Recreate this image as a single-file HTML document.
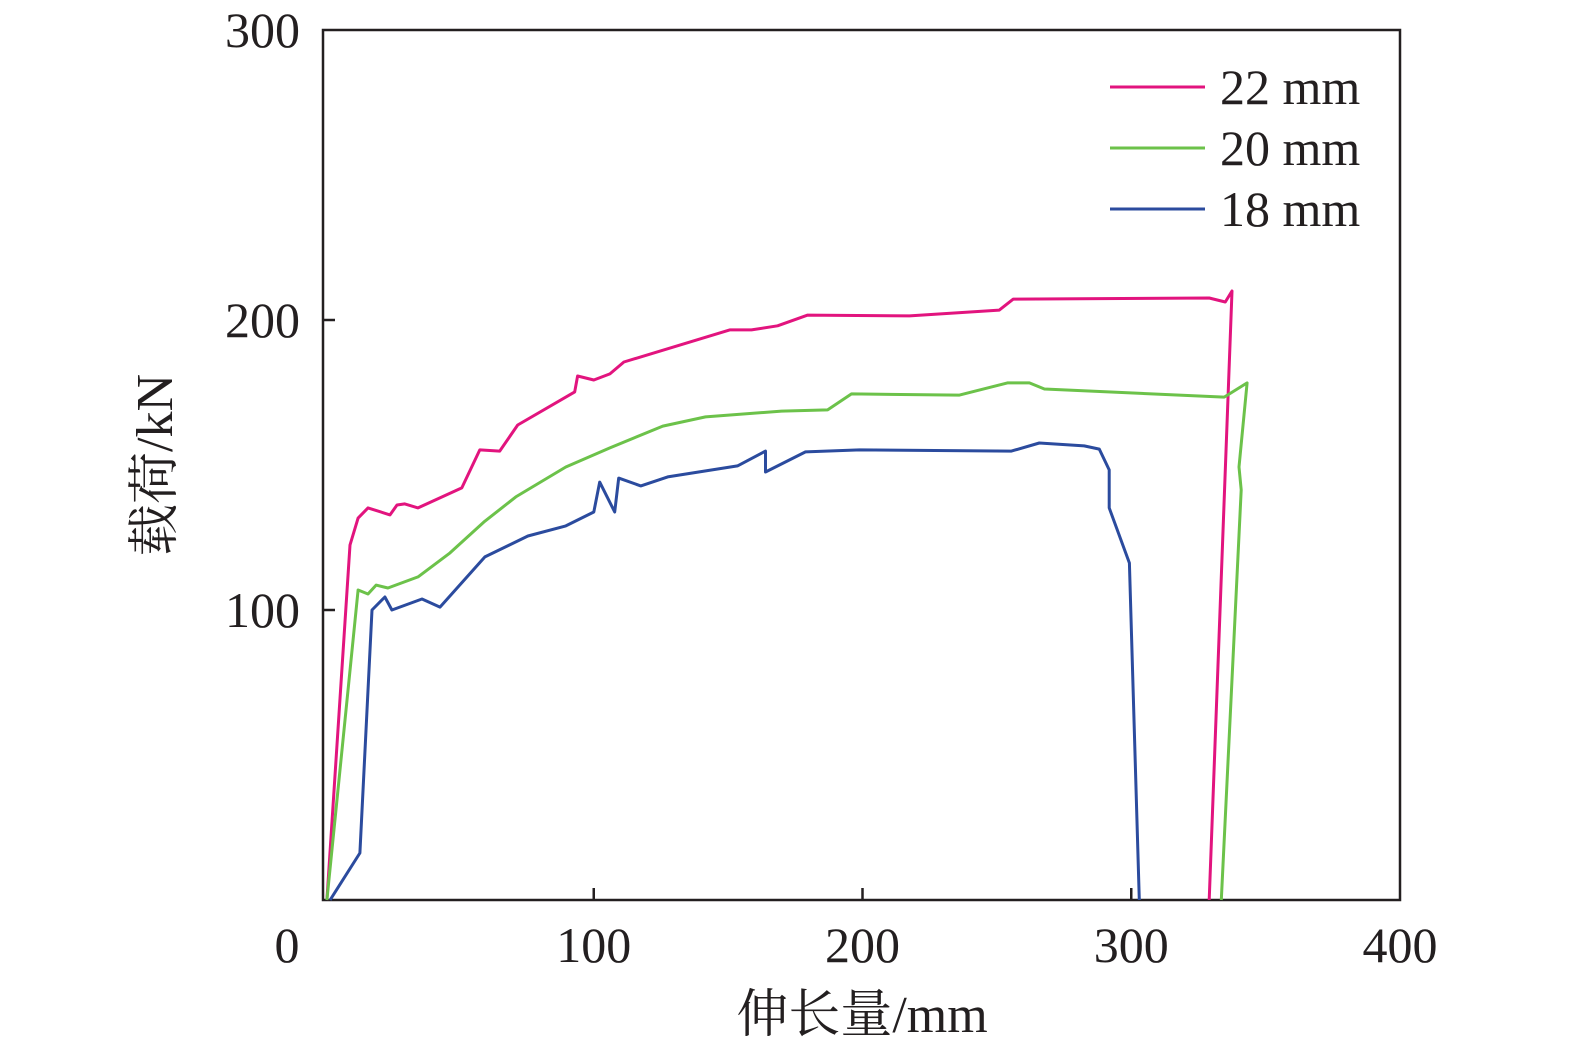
<!DOCTYPE html>
<html><head><meta charset="utf-8"><style>
html,body{margin:0;padding:0;background:#fff;}
svg text{font-family:"Liberation Serif","Noto Serif CJK SC",serif;fill:#231f20;}
</style></head><body>
<svg id="chart" width="1575" height="1054" xmlns="http://www.w3.org/2000/svg">
<g id="plot"></g>
</svg>
<script>
const xTicks=[0,100,200,300,400];
const yTicks=[100,200,300];
const seriesNames=["22 mm","20 mm","18 mm"];
const seriesColors=["#e2147e","#6cc24a","#2b4b9e"];
const x22=[0.7,9.3,12.3,16,24.2,26.8,29.7,34.6,50.9,57.6,65,71.7,92.9,94,100,106,111.2,150.6,158.7,168.4,179.6,217.5,250.9,256.1,329,335,337.5,329];
const y22=[0,122.4,131.7,135.2,132.8,136.2,136.6,135.2,142.1,155.2,154.8,163.8,175.2,180.7,179.3,181.4,185.5,196.6,196.6,198,201.7,201.4,203.4,207.2,207.6,206.2,210,0];
const x20=[0.7,12.3,16,19,23.4,34.6,46.5,59.1,71,89.6,106,125.7,141.6,169.9,187,195.9,236.1,253.9,262.1,267.7,334.6,343.1,340.1,340.9,333.5];
const y20=[0,106.9,105.5,108.6,107.6,111.4,119.7,130.3,139,149.3,155.9,163.4,166.6,168.6,169,174.5,174.1,178.3,178.3,176.2,173.4,178.3,149.3,141.4,0];
const x18=[1.9,13,17.5,22.3,24.9,36.1,42.8,59.5,75.5,89.6,100,102.2,107.8,109.3,117.5,127.5,153.5,163.9,163.9,178.8,198.9,255.4,265.8,282.5,288.1,291.8,291.8,299.3,303];
const y18=[0,16.2,100,104.5,100,103.8,101,118.3,125.5,129,133.8,144.1,133.8,145.5,142.8,145.9,149.7,154.8,147.6,154.5,155.2,154.8,157.6,156.6,155.5,148.3,135.2,116.2,0];
const XS=[x22,x20,x18], YS=[y22,y20,y18];
const L=325,R=1400,T=30,B=900;
const sx=v=>L+(v-0)*(R-L)/400;
const sy=v=>B-v*(B-T)/300;
const NS="http://www.w3.org/2000/svg";
const g=document.getElementById('plot');
function mk(t,a){const e=document.createElementNS(NS,t);for(const k in a)e.setAttribute(k,a[k]);g.appendChild(e);return e;}
const frame=mk('rect',{x:323,y:T,width:R-323,height:B-T,fill:'none',stroke:'#231f20','stroke-width':2.5});


xTicks.forEach((v,i)=>{
  if(v>0&&v<400){const t=mk('line',{x1:sx(v),x2:sx(v),y1:B,y2:B-12,stroke:'#231f20','stroke-width':2.5});
  
  }
  const lb=mk('text',{x:v===0?287:sx(v),y:962,'font-size':50,'text-anchor':'middle'});lb.textContent=v;
  
  
});
yTicks.forEach(v=>{
  if(v<300){const t=mk('line',{x1:323,x2:335,y1:sy(v),y2:sy(v),stroke:'#231f20','stroke-width':2.5});
  
  }
  const lb=mk('text',{x:300,y:sy(v)+17,'font-size':50,'text-anchor':'end'});lb.textContent=v;
  
  
});
const xt=mk('text',{x:862,y:1032,'font-size':52,'text-anchor':'middle'});xt.textContent='伸长量/mm';


const yt=mk('text',{x:0,y:0,'font-size':52,'text-anchor':'middle',transform:'translate(172,465) rotate(-90)'});yt.textContent='载荷/kN';


XS.forEach((xs,i)=>{
  const pts=xs.map((x,j)=>sx(x).toFixed(1)+','+sy(YS[i][j]).toFixed(1)).join(' ');
  const p=mk('polyline',{points:pts,fill:'none',stroke:seriesColors[i],'stroke-width':3,'stroke-linejoin':'round'});
  
  
  const ly=87+i*61;
  const ll=mk('line',{x1:1110,x2:1205,y1:ly,y2:ly,stroke:seriesColors[i],'stroke-width':3});
  
  
  const lt=mk('text',{x:1220,y:ly+17,'font-size':50});lt.textContent=seriesNames[i];
  
  
});
</script>
</body></html>
